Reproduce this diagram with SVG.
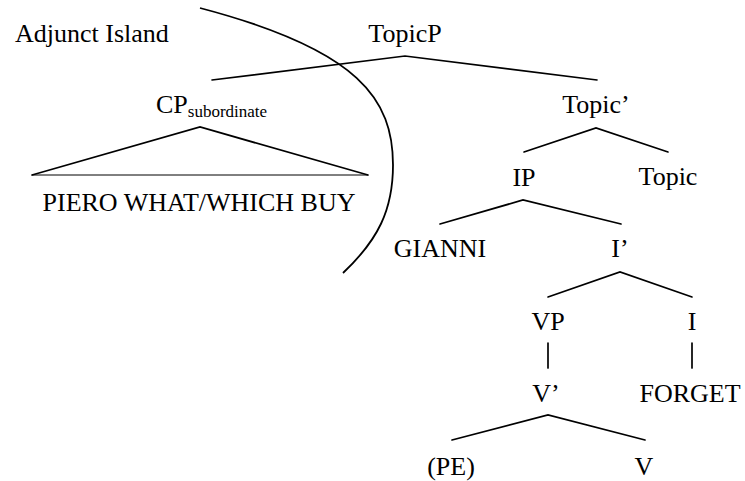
<svg xmlns="http://www.w3.org/2000/svg" width="745" height="481" viewBox="0 0 745 481">
  <style>
    text { font-family: "Liberation Serif", "Times New Roman", serif; font-size: 26px; fill: #000; }
    .c { text-anchor: middle; }
    .sub { font-size: 17px; }
    .edge { fill: none; stroke: #000; stroke-width: 1.7; stroke-linecap: round; stroke-linejoin: miter; }
    .base { fill: none; stroke: #000; stroke-width: 1; }
    .island { fill: none; stroke: #000; stroke-width: 1.8; }
  </style>
  <rect width="745" height="481" fill="#fff"/>

  <!-- branches -->
  <g id="connectors">
    <polyline class="edge" points="212,80 405,56 597,80"/>
    <polyline class="edge" points="32,175 200,127 368,175"/>
    <line class="base" x1="32" y1="175" x2="368" y2="175"/>
    <polyline class="edge" points="524,152 596,128 668,152"/>
    <polyline class="edge" points="440,224 523,200 621,224"/>
    <polyline class="edge" points="548,297 620,272 692,297"/>
    <line class="edge" x1="548" y1="343" x2="548" y2="368"/>
    <line class="edge" x1="692" y1="343" x2="692" y2="368"/>
    <polyline class="edge" points="452,440 548,415 645,440"/>
  </g>

  <!-- island boundary -->
  <path id="island-boundary" class="island" d="M200,8 C360,50 393,100 393,165 C393,210 378,240 343,273"/>

  <g id="label-adjunct-island"><text x="15" y="42">Adjunct Island</text></g>
  <g id="node-topicp"><text class="c" x="405" y="42">TopicP</text></g>
  <g id="node-cp"><text x="156" y="113">CP<tspan class="sub" y="117">subordinate</tspan></text></g>
  <g id="node-clause"><text class="c" x="199" y="211">PIERO WHAT/WHICH BUY</text></g>
  <g id="node-topic-bar"><text class="c" x="596" y="113">Topic’</text></g>
  <g id="node-ip"><text class="c" x="524" y="186">IP</text></g>
  <g id="node-topic"><text class="c" x="668" y="185">Topic</text></g>
  <g id="node-gianni"><text class="c" x="440" y="257">GIANNI</text></g>
  <g id="node-i-bar"><text class="c" x="620" y="257">I’</text></g>
  <g id="node-vp"><text class="c" x="548" y="330">VP</text></g>
  <g id="node-i"><text class="c" x="692" y="330">I</text></g>
  <g id="node-v-bar"><text class="c" x="546" y="402">V’</text></g>
  <g id="node-forget"><text class="c" x="690" y="402">FORGET</text></g>
  <g id="node-pe"><text class="c" x="451" y="475">(PE)</text></g>
  <g id="node-v"><text class="c" x="644" y="475">V</text></g>
</svg>
